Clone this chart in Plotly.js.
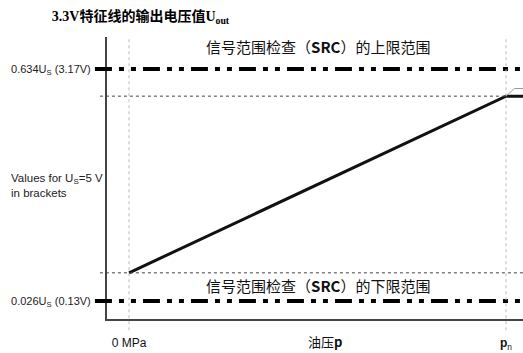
<!DOCTYPE html>
<html>
<head>
<meta charset="utf-8">
<script src="https://cdn.plot.ly/plotly-3.0.1.min.js"></script>
<style>
  html, body { margin: 0; padding: 0; background: #fff; }
  #chart { width: 523px; height: 353px; }
</style>
</head>
<body>
<div id="chart"></div>
<script>
// pressure axis: 0 = 0 MPa, 1 = pn
var pressure = [0, 1];
var pressureLabels = ["0 MPa", "<b>p</b><sub>n</sub>"];

// characteristic output, as fraction of Us
var outputUs = [0.1, 0.563];

// SRC limits, fraction of Us and volts for Us = 5 V
var limitUs = [0.634, 0.026];
var limitVolts = [3.17, 0.13];
var limitNames = ["信号范围检查（<b>SRC</b>）的上限范围", "信号范围检查（<b>SRC</b>）的下限范围"];

var xMax = 1.045;

var characteristic = {
    x: [pressure[0], pressure[1], xMax],
    y: [outputUs[0], outputUs[1], outputUs[1]],
    mode: "lines",
    line: {color: "#111", width: 3},
    hoverinfo: "skip"
};

// faint continuation above pn
var overshoot = {
    x: [pressure[1], pressure[1] + 0.022, xMax],
    y: [outputUs[1], outputUs[1] + 0.02, outputUs[1] + 0.02],
    mode: "lines",
    line: {color: "#999", width: 1},
    hoverinfo: "skip"
};

var shapes = [];

// dash-dot limit lines
limitUs.forEach(function (v) {
    shapes.push({
        type: "line", xref: "paper", yref: "y",
        x0: -0.029, x1: 1, y0: v, y1: v,
        line: {color: "#000", width: 4, dash: "17px,7px,5px,7px,5px,7px"}
    });
});

// dotted guide lines at the characteristic end points
shapes.push({
    type: "line", xref: "paper", yref: "y",
    x0: -0.017, x1: 1, y0: outputUs[0], y1: outputUs[0],
    line: {color: "#444", width: 1, dash: "dot"}
});
shapes.push({
    type: "line", xref: "paper", yref: "y",
    x0: -0.017, x1: (pressure[1] + 0.0584) / (xMax + 0.0584), y0: outputUs[1], y1: outputUs[1],
    line: {color: "#444", width: 1, dash: "dot"}
});

// thin vertical markers at 0 MPa and pn
pressure.forEach(function (p) {
    shapes.push({
        type: "line", xref: "x", yref: "paper",
        x0: p, x1: p, y0: -0.04, y1: 1,
        line: {color: "#bbb", width: 1, dash: "dot"}
    });
});

var annotations = [
    {
        text: limitNames[0], xref: "x", yref: "y",
        x: 0.5, y: 0.693, showarrow: false,
        font: {family: "Noto Sans CJK SC", size: 15, color: "#111"}
    },
    {
        text: limitNames[1], xref: "x", yref: "y",
        x: 0.5, y: 0.066, showarrow: false,
        font: {family: "Noto Sans CJK SC", size: 15, color: "#111"}
    },
    {
        text: "Values for U<sub>S</sub>=5 V<br>in brackets",
        xref: "paper", yref: "paper", x: -0.235, y: 0.475,
        xanchor: "left", align: "left", showarrow: false,
        font: {family: "Liberation Sans, Arial", size: 11.5, color: "#222"}
    },
    {
        text: "油压<b>p</b>", xref: "x", yref: "paper",
        x: 0.52, y: -0.08, yanchor: "middle", showarrow: false,
        font: {family: "Noto Sans CJK SC", size: 13, color: "#111"}
    }
];

var layout = {
    width: 523,
    height: 353,
    margin: {l: 107, r: 0, t: 37, b: 34},
    paper_bgcolor: "#fff",
    plot_bgcolor: "#fff",
    showlegend: false,
    title: {
        text: "<b>3.3V特征线的输出电压值U<sub>out</sub></b>",
        xref: "container", yref: "container",
        x: 0.099, xanchor: "left", y: 0.955, yanchor: "middle",
        font: {family: "Liberation Serif, Noto Sans CJK SC", size: 14, color: "#000"}
    },
    xaxis: {
        range: [-0.0584, xMax],
        showgrid: false, zeroline: false,
        showline: true, linecolor: "#444", linewidth: 2,
        tickvals: pressure, ticktext: pressureLabels,
        ticks: "", ticklabelstandoff: 12,
        tickfont: {family: "Liberation Sans, Arial", size: 12, color: "#111"}
    },
    yaxis: {
        range: [-0.021, 0.718],
        showgrid: false, zeroline: false,
        showline: true, linecolor: "#444", linewidth: 2,
        tickvals: limitUs,
        ticktext: limitUs.map(function (v, i) {
            return v.toFixed(3) + "U<sub>S</sub> (" + limitVolts[i] + "V)";
        }),
        ticks: "", ticklabelstandoff: 12,
        tickfont: {family: "Liberation Sans, Arial", size: 11, color: "#222"}
    },
    shapes: shapes,
    annotations: annotations
};

Plotly.newPlot("chart", [characteristic, overshoot], layout, {displayModeBar: false, staticPlot: true});
</script>
</body>
</html>
